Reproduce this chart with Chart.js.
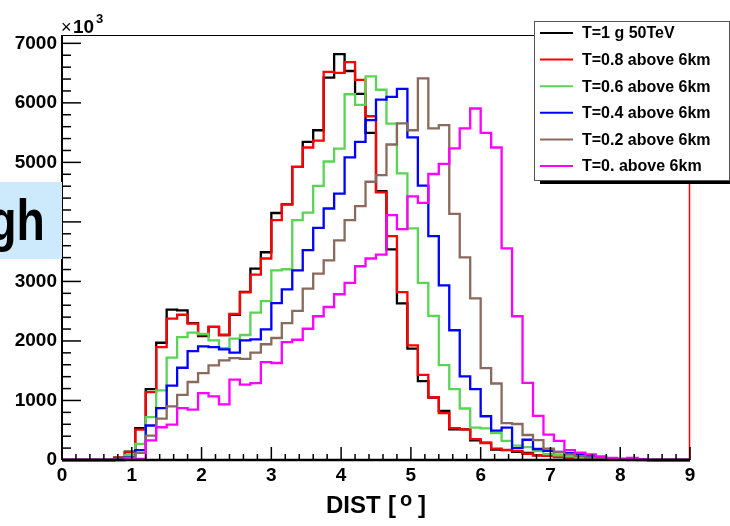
<!DOCTYPE html>
<html lang="en">
<head>
<meta charset="UTF-8">
<title>DIST histograms</title>
<script src="https://cdn.jsdelivr.net/npm/chart.js"></script>
<style>
    body { margin: 0; background: #fff; }
    #wrap { position: relative; width: 730px; height: 526px; }
    #tag {
        position: absolute; left: 0; top: 182px; width: 62px; height: 77px;
        background: #cdeafc; overflow: hidden;
    }
    #tag span {
        position: absolute; right: 17px; top: 9px;
        font: bold 58px/58px "Liberation Sans", Arial, sans-serif;
        transform: scaleX(0.8); transform-origin: right center;
    }
</style>
</head>
<body>
<div id="wrap">
    <canvas id="c"></canvas>
    <div id="tag"><span>gh</span></div>
</div>
<script>
// histogram bins: 60 bins of 0.15 from 0 to 9
const binWidth = 0.15;

const xTickValues = [0, 1, 2, 3, 4, 5, 6, 7, 8, 9];
const yTickValues = [0, 1000, 2000, 3000, 4000, 5000, 6000, 7000];

const labels = ['T=1 g 50TeV', 'T=0.8 above 6km', 'T=0.6 above 6km',
                'T=0.4 above 6km', 'T=0.2 above 6km', 'T=0. above 6km'];
const colors = ['#000000', '#ff0000', '#59d454', '#0000ff', '#8a6a5c', '#ff00ff'];

const t10 = [0,0,0,0,0,40,140,535,1190,1970,
    2525,2515,2300,2080,2235,2100,2440,2825,3215,3490,
    4150,4295,4925,5345,5540,6425,6820,6535,6150,5495,
    4515,3540,2630,1870,1325,1050,825,515,515,330,
    290,175,165,135,120,80,70,50,40,30,
    20,15,10,10,20,5,0,0,0,0];
const t08 = [0,0,0,0,0,40,130,510,1140,1895,
    2375,2440,2290,2100,2235,2100,2455,2815,3115,3385,
    4030,4295,4925,5250,5365,6520,6505,6685,6385,5775,
    4495,3760,2820,1925,1430,1050,790,535,515,350,
    285,190,170,150,105,80,70,55,40,30,
    25,15,15,8,5,3,0,0,0,0];
const t06 = [0,0,0,0,0,10,80,270,720,1170,
    1720,2065,2140,2120,2010,1880,2040,2100,2475,2670,
    3185,3205,4030,4155,4605,5015,5230,6145,5965,6445,
    6220,5650,4815,3890,2975,2420,1595,1190,865,545,
    530,450,320,240,215,150,100,80,60,40,
    25,10,10,5,0,0,0,0,0,0];
const t04 = [0,0,0,0,0,5,45,165,580,870,
    1250,1550,1830,1910,1895,1860,1805,2010,2025,2195,
    2635,2865,3185,3525,3900,4225,4475,5085,5345,5710,
    6055,6100,6235,5420,4610,3760,2935,2180,1405,1190,
    735,495,545,200,340,185,155,135,115,95,
    75,40,25,20,10,5,0,0,0,0];
const t02 = [0,0,0,0,0,0,35,120,410,695,
    900,1095,1310,1460,1590,1675,1710,1700,1805,1945,
    2050,2300,2505,2880,3130,3355,3690,4030,4265,4675,
    4785,5300,5655,5540,6410,5570,5625,4135,3405,2715,
    1545,1285,620,605,420,335,190,130,95,65,
    35,25,15,10,5,0,0,0,0,0];
const t00 = [0,0,0,0,0,0,15,20,330,550,
    595,870,845,1125,1070,935,1350,1265,1290,1645,
    1630,1980,2020,2205,2415,2570,2785,2975,3255,3385,
    3450,4115,3880,4430,4320,4805,4975,5235,5570,5905,
    5495,5250,3555,2415,1295,740,425,320,165,125,
    95,60,37,20,37,8,0,0,0,0];

const series = [t10, t08, t06, t04, t02, t00];

// step points: value held from each lower bin edge, closed at the last edge
function toSteps(vals) {
    const pts = vals.map((v, i) => ({ x: +(i * binWidth).toFixed(2), y: v }));
    pts.push({ x: +(vals.length * binWidth).toFixed(2), y: vals[vals.length - 1] });
    return pts;
}

const FONT = '"Liberation Sans", Arial, sans-serif';
Chart.defaults.font.family = FONT;
Chart.defaults.color = '#000';

const rootDecor = {
    id: 'rootDecor',
    afterDraw(chart) {
        const { ctx, chartArea: a, scales: { x, y } } = chart;
        const line = (x1, y1, x2, y2) => { ctx.beginPath(); ctx.moveTo(x1, y1); ctx.lineTo(x2, y2); ctx.stroke(); };
        ctx.save();

        // frame
        ctx.strokeStyle = '#000'; ctx.lineWidth = 1;
        line(a.left, a.top + 0.5, a.right, a.top + 0.5);
        ctx.strokeStyle = '#ff0000'; ctx.lineWidth = 1.5;
        line(a.right - 0.5, a.top, a.right - 0.5, a.bottom);

        // axes
        ctx.strokeStyle = '#000';
        ctx.lineWidth = 2.5;
        line(a.left, a.bottom, a.right, a.bottom);
        ctx.lineWidth = 2;
        line(a.left, a.top, a.left, a.bottom);

        // ticks drawn inward, ROOT style
        ctx.lineWidth = 1.5;
        for (let i = 0; i <= 45; i++) {
            const px = x.getPixelForValue(i * 0.2);
            const len = i % 5 === 0 ? 13 : 6;
            line(px, a.bottom, px, a.bottom - len);
        }
        for (let i = 0; i * 200 <= y.max; i++) {
            const py = y.getPixelForValue(i * 200);
            const len = i % 5 === 0 ? 19 : 9;
            line(a.left, py, a.left + len, py);
        }

        // exponent
        ctx.fillStyle = '#000';
        ctx.textBaseline = 'alphabetic';
        ctx.textAlign = 'left';
        ctx.font = '18px ' + FONT;
        ctx.fillText('\u00d7', 61, 33);
        ctx.font = 'bold 19px ' + FONT;
        ctx.fillText('10', 73, 33);
        ctx.font = 'bold 13px ' + FONT;
        ctx.fillText('3', 96, 23);

        // x title  DIST [ ^o ]
        ctx.font = 'bold 24px ' + FONT;
        ctx.fillText('DIST', 326, 513);
        ctx.fillText('[', 388, 513);
        ctx.fillText(']', 418, 513);
        ctx.font = 'bold 20px ' + FONT;
        ctx.fillText('o', 400, 506);

        // legend
        const lx = 534, ly = 21, lw = 195, lh = 159;
        ctx.fillStyle = '#000';
        ctx.fillRect(lx + 6, ly + lh, lw, 4);
        ctx.fillStyle = '#fff';
        ctx.fillRect(lx, ly, lw, lh);
        ctx.strokeStyle = '#555'; ctx.lineWidth = 1;
        ctx.strokeRect(lx + 0.5, ly + 0.5, lw, lh);
        ctx.font = 'bold 16px ' + FONT;
        ctx.textBaseline = 'middle';
        chart.data.datasets.forEach((ds, i) => {
            const cy = 33 + 26.6 * i;
            ctx.strokeStyle = ds.borderColor; ctx.lineWidth = 2;
            line(540, cy, 573, cy);
            ctx.fillStyle = '#000';
            ctx.fillText(ds.label, 582, cy + 1);
        });
        ctx.restore();
    }
};

new Chart(document.getElementById('c'), {
    type: 'line',
    data: {
        datasets: series.map((vals, i) => ({
            label: labels[i],
            data: toSteps(vals),
            borderColor: colors[i],
            borderWidth: 2.3,
            pointRadius: 0,
            stepped: 'before',
            fill: false,
            order: series.length - i,
            clip: 4,
        })),
    },
    options: {
        responsive: true,
        maintainAspectRatio: false,
        devicePixelRatio: 1,
        animation: false,
        layout: { padding: { top: 35, right: 40, left: 0, bottom: 0 } },
        plugins: { legend: { display: false }, tooltip: { enabled: false } },
        scales: {
            x: {
                type: 'linear', min: 0, max: 9,
                grid: { display: false, drawTicks: false },
                border: { display: false },
                afterBuildTicks: s => { s.ticks = xTickValues.map(v => ({ value: v })); },
                ticks: { padding: 4, maxRotation: 0, autoSkip: false,
                         callback: v => String(v),
                         font: { size: 19, weight: 'bold' }, color: '#000' },
                afterFit: s => { s.height = 66; },
            },
            y: {
                type: 'linear', min: 0, max: 7140,
                grid: { display: false, drawTicks: false },
                border: { display: false },
                afterBuildTicks: s => { s.ticks = yTickValues.map(v => ({ value: v })); },
                ticks: { padding: 5, autoSkip: false,
                         callback: v => String(v),
                         font: { size: 19, weight: 'bold' }, color: '#000' },
                afterFit: s => { s.width = 62; },
            },
        },
    },
    plugins: [rootDecor],
});
</script>
</body>
</html>
